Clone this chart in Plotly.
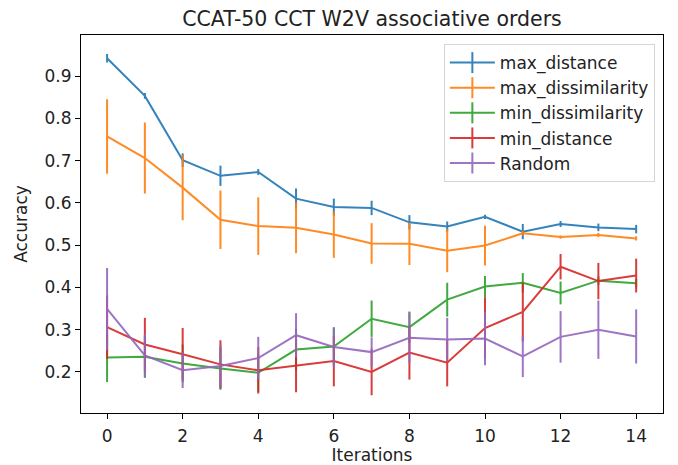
import plotly.graph_objects as go

iterations = list(range(15))

max_distance = [0.942, 0.853, 0.701, 0.664, 0.673, 0.610, 0.590, 0.588, 0.554, 0.544, 0.567, 0.532, 0.550, 0.542, 0.538]
max_distance_err = [0.010, 0.007, 0.016, 0.024, 0.007, 0.024, 0.020, 0.017, 0.017, 0.012, 0.005, 0.018, 0.007, 0.009, 0.010]

max_dissimilarity = [0.757, 0.706, 0.636, 0.560, 0.545, 0.541, 0.525, 0.504, 0.503, 0.487, 0.499, 0.528, 0.519, 0.524, 0.516]
max_dissimilarity_err = [0.088, 0.084, 0.077, 0.069, 0.068, 0.060, 0.055, 0.048, 0.050, 0.051, 0.047, 0.006, 0.004, 0.005, 0.005]

min_dissimilarity = [0.234, 0.236, 0.220, 0.208, 0.198, 0.253, 0.260, 0.326, 0.306, 0.371, 0.402, 0.411, 0.387, 0.416, 0.410]
min_dissimilarity_err = [0.058, 0.050, 0.045, 0.050, 0.045, 0.050, 0.045, 0.043, 0.037, 0.040, 0.025, 0.023, 0.027, 0.010, 0.010]

min_distance = [0.306, 0.265, 0.242, 0.218, 0.204, 0.215, 0.226, 0.200, 0.246, 0.222, 0.304, 0.342, 0.449, 0.415, 0.428]
min_distance_err = [0.075, 0.063, 0.062, 0.057, 0.055, 0.063, 0.060, 0.055, 0.064, 0.056, 0.073, 0.070, 0.030, 0.043, 0.040]

random_order = [0.349, 0.239, 0.204, 0.214, 0.233, 0.287, 0.259, 0.247, 0.281, 0.277, 0.279, 0.237, 0.283, 0.300, 0.284]
random_err = [0.097, 0.050, 0.042, 0.050, 0.050, 0.052, 0.047, 0.035, 0.060, 0.051, 0.063, 0.049, 0.061, 0.069, 0.064]

series = [
    ('max_distance', max_distance, max_distance_err, '#1f77b4'),
    ('max_dissimilarity', max_dissimilarity, max_dissimilarity_err, '#ff7f0e'),
    ('min_dissimilarity', min_dissimilarity, min_dissimilarity_err, '#2ca02c'),
    ('min_distance', min_distance, min_distance_err, '#d62728'),
    ('Random', random_order, random_err, '#9467bd'),
]

fig = go.Figure()

for name, vals, errs, color in series:
    fig.add_trace(go.Scatter(
        x=iterations, y=vals, mode='lines', name=name,
        line=dict(color=color, width=2),
        error_y=dict(type='data', array=errs, visible=True, color=color, thickness=2, width=0),
        opacity=0.9, showlegend=False
    ))

# entradas de leyenda con la cruz tipo matplotlib
for name, vals, errs, color in series:
    fig.add_trace(go.Scatter(
        x=[None], y=[None], mode='lines+markers', name=name,
        line=dict(color=color, width=2),
        marker=dict(symbol='line-ns-open', size=15, color=color, line=dict(color=color, width=2)),
        opacity=0.9
    ))

font_family = 'DejaVu Sans, sans-serif'

fig.update_layout(
    width=678, height=465,
    paper_bgcolor='white', plot_bgcolor='white',
    margin=dict(l=81, r=15, t=35, b=52),
    font=dict(family=font_family, size=17, color='#222222'),
    title=dict(text='CCAT-50 CCT W2V associative orders', x=0.5, xref='paper', xanchor='center',
               yref='container', y=0.960, yanchor='middle',
               font=dict(size=20.5, color='#222222')),
    showlegend=True,
    legend=dict(x=0.986, y=0.976, xanchor='right', yanchor='top', itemwidth=45,
                bgcolor='rgba(255,255,255,0.8)', bordercolor='#d5d5d5', borderwidth=1,
                font=dict(size=17, color='#222222')),
    xaxis=dict(range=[-0.69, 14.71], tickmode='array', tickvals=[0, 2, 4, 6, 8, 10, 12, 14],
               showgrid=False, zeroline=False, showline=True, linecolor='black', linewidth=1, mirror=True,
               ticks='outside', ticklen=5, tickcolor='black', ticklabelstandoff=3, automargin=False,
               title=dict(text='Iterations', standoff=6, font=dict(size=17))),
    yaxis=dict(range=[0.103, 0.997], tickmode='array', tickvals=[0.2, 0.3, 0.4, 0.5, 0.6, 0.7, 0.8, 0.9],
               ticktext=['0.2', '0.3', '0.4', '0.5', '0.6', '0.7', '0.8', '0.9'],
               showgrid=False, zeroline=False, showline=True, linecolor='black', linewidth=1, mirror=True,
               ticks='outside', ticklen=5, tickcolor='black', automargin=False,
               title=dict(text='Accuracy', standoff=12, font=dict(size=17))),
)

# quitar el margen por defecto del body para que el grafico empiece en 0,0
fig.write_html('out.html', config={'displayModeBar': False},
               post_script="document.body.style.margin='0';")
